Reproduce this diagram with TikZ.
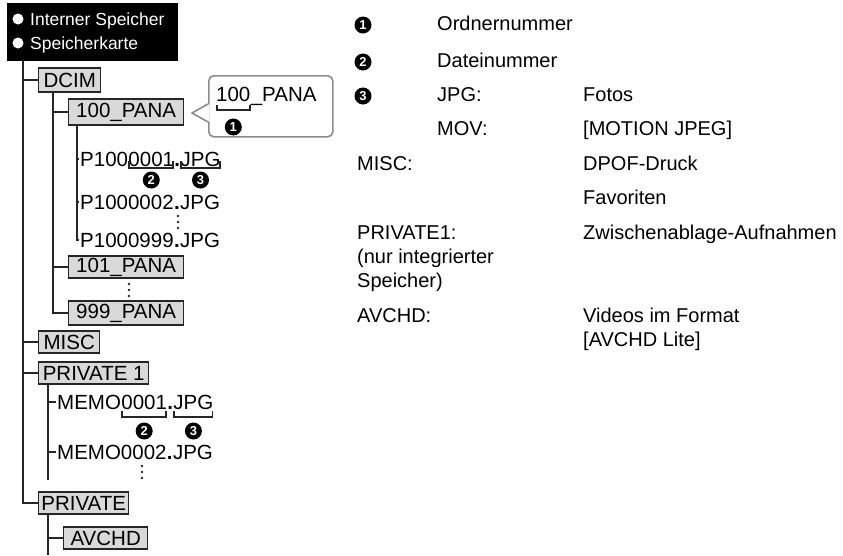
\documentclass[tikz,border=0pt]{standalone}
\usepackage{fontspec}
\setmainfont{Liberation Sans}
\usetikzlibrary{calc}
\newcommand\treefont{\fontsize{20.5}{22}\selectfont}
\newcommand\headfont{\fontsize{17.5}{20}\selectfont}
\newcommand\rightfont{\fontsize{20}{22}\selectfont}
\begin{document}
\begin{tikzpicture}[x=1pt,y=-1pt,
  tline/.style={draw=black!85, line width=1.4pt},
  fbox/.style={draw=black!85, line width=1.4pt, fill=black!15, minimum height=22pt, inner sep=0pt, anchor=west, font=\treefont},
  ftext/.style={inner sep=0pt, anchor=base west, font=\treefont},
  htext/.style={inner sep=0pt, anchor=base west, font=\headfont, text=white},
  rtext/.style={inner sep=0pt, anchor=base west, font=\rightfont},
  num/.style={circle, fill=black, text=white, inner sep=0pt, minimum size=17pt, font=\bfseries\fontsize{13}{13}\selectfont},
  hbullet/.style={circle, fill=white, inner sep=0pt, minimum size=11pt},
  brk/.style={draw=black!85, line width=1.8pt},
  callout/.style={draw=black!45, line width=1.6pt},
  dotmark/.style={fill=black!85},
]
\useasboundingbox (0,0) rectangle (843,555);

% header
\node[fill=black, minimum width=171pt, minimum height=58pt, inner sep=0pt, anchor=north west] (hdr) at (7,3) {};
\node[hbullet] (b1) at (18,19) {};
\node[hbullet] (b2) at (18,43) {};
\node[htext] (h1) at (30,25) {Interner Speicher};
\node[htext] (h2) at (30,49) {Speicherkarte};

% folder boxes
\node[fbox, minimum width=62pt, minimum height=24pt] (dcim) at (38,80) {DCIM};
\node[fbox, minimum width=115pt, minimum height=26pt] (p100) at (68,112) {100\_PANA};
\node[fbox, minimum width=115pt] (p101) at (68,267) {101\_PANA};
\node[fbox, minimum width=115pt, minimum height=24pt] (p999) at (68,313) {999\_PANA};
\node[fbox, minimum width=61pt] (misc) at (38,342) {MISC};
\node[fbox, minimum width=110pt] (priv1) at (38,373) {PRIVATE 1};
\node[fbox, minimum width=90pt] (priv) at (38,503) {PRIVATE};
\node[fbox, minimum width=84pt] (avchd) at (63,538) {AVCHD};

% files under 100_PANA
\node[ftext] (f1a) at (80,166) {P100};
\node[ftext] (f1b) at (f1a.base east) {0001};
\node[ftext] (f1c) at (f1b.base east) {\bfseries .};
\node[ftext] (f1d) at (f1c.base east) {JPG};
\node[ftext] (f2a) at (80,209) {P1000002};
\node[ftext] (f2c) at (f2a.base east) {\bfseries .};
\node[ftext] (f2d) at (f2c.base east) {JPG};
\node[ftext] (f3a) at (80,247) {P1000999};
\node[ftext] (f3c) at (f3a.base east) {\bfseries .};
\node[ftext] (f3d) at (f3c.base east) {JPG};

% files under PRIVATE 1
\node[ftext] (m1a) at (57,409) {MEMO};
\node[ftext] (m1b) at (m1a.base east) {0001};
\node[ftext] (m1c) at (m1b.base east) {\bfseries .};
\node[ftext] (m1d) at (m1c.base east) {JPG};
\node[ftext] (m2a) at (57,459) {MEMO0002};
\node[ftext] (m2c) at (m2a.base east) {\bfseries .};
\node[ftext] (m2d) at (m2c.base east) {JPG};

% tree lines
\coordinate (t0) at (23,61);
\draw[tline] (t0) |- (dcim.west);
\draw[tline] (t0) |- (misc.west);
\draw[tline] (t0) |- (priv1.west);
\draw[tline] (t0) |- (priv.west);
\coordinate (d0) at (53,92);
\draw[tline] (d0) |- (p100.west);
\draw[tline] (d0) |- (p101.west);
\draw[tline] (d0) |- (p999.west);
\coordinate (e0) at (77,125);
\draw[tline] (e0) |- ([xshift=-1pt]f1a.west);
\draw[tline] (e0) |- ([xshift=-1pt]f2a.west);
\draw[tline] (e0) |- ([xshift=-1pt]f3a.west);
\coordinate (q0) at (48,384);
\coordinate (q1) at (48,480);
\draw[tline] (q0) -- (q1);
\draw[tline] (q0) |- ([xshift=-1pt]m1a.west);
\draw[tline] (q0) |- ([xshift=-1pt]m2a.west);
\coordinate (r0) at (48,514);
\coordinate (r1) at (48,555);
\draw[tline] (r0) -- (r1);
\draw[tline] (r0) |- (avchd.west);

% continuation dots
\foreach \y in {216,222,228} \fill[dotmark] (178,\y) circle (1.4pt);
\foreach \y in {284,290,296} \fill[dotmark] (129,\y) circle (1.4pt);
\foreach \y in {466,472,478} \fill[dotmark] (142,\y) circle (1.4pt);

% brackets under P1000001.JPG
\draw[brk] ($(f1b.base west)+(1,-5)$) -- ($(f1b.base west)+(1,2)$) -- ($(f1b.base east)+(-1,2)$) -- ($(f1b.base east)+(-1,-5)$);
\draw[brk] ($(f1d.base west)+(1,-5)$) -- ($(f1d.base west)+(1,2)$) -- ($(f1d.base east)+(-1,2)$) -- ($(f1d.base east)+(-1,-5)$);
\node[num] (n2a) at ($(f1b.base)+(0,14)$) {2};
\node[num] (n3a) at ($(f1d.base)+(0,14)$) {3};

% brackets under MEMO0001.JPG
\draw[brk] ($(m1b.base west)+(1,2)$) -- ($(m1b.base west)+(1,8)$) -- ($(m1b.base east)+(-1,8)$) -- ($(m1b.base east)+(-1,2)$);
\draw[brk] ($(m1d.base west)+(1,2)$) -- ($(m1d.base west)+(1,8)$) -- ($(m1d.base east)+(-1,8)$) -- ($(m1d.base east)+(-1,2)$);
\node[num] (n2b) at ($(m1b.base)+(0,22)$) {2};
\node[num] (n3b) at ($(m1d.base)+(0,22)$) {3};

% callout
\node[callout, fill=white, rounded corners=5pt, minimum width=124pt, minimum height=61pt, inner sep=0pt, anchor=north west] (call) at (208,75) {};
\coordinate (tip) at (192,113);
\fill[white] (209.5,104) -- (tip) -- (209.5,122) -- cycle;
\draw[callout, line join=round] (208,104) -- (tip) -- (208,122);
\node[ftext] (c1a) at (216,101) {100};
\node[ftext] (c1b) at (c1a.base east) {\_PANA};
\draw[brk] ($(c1a.base west)+(1,4)$) -- ($(c1a.base west)+(1,9)$) -- ($(c1a.base east)+(-1,9)$) -- ($(c1a.base east)+(-1,4)$);
\node[num] (n1a) at ($(c1a.base)+(0,26)$) {1};

% right-hand legend
\node[num] (rn1) at (363,25) {1};
\node[num] (rn2) at (363,62) {2};
\node[num] (rn3) at (363,96) {3};
\node[rtext] (rt1) at (437,30) {Ordnernummer};
\node[rtext] (rt2) at (437,67) {Dateinummer};
\node[rtext] (rt3) at (437,101) {JPG:};
\node[rtext] (rt4) at (437,135) {MOV:};
\node[rtext] (rm) at (357,170) {MISC:};
\node[rtext] (rp) at (357,239) {PRIVATE1:};
\node[rtext] (rp2) at (357,263) {(nur integrierter};
\node[rtext] (rp3) at (357,287) {Speicher)};
\node[rtext] (ra) at (357,322) {AVCHD:};
\node[rtext] (rf3) at (583,101) {Fotos};
\node[rtext] (rf4) at (583,135) {[MOTION JPEG]};
\node[rtext] (rf5) at (583,170) {DPOF-Druck};
\node[rtext] (rf6) at (583,204) {Favoriten};
\node[rtext] (rf7) at (583,239) {Zwischenablage-Aufnahmen};
\node[rtext] (rf8) at (583,322) {Videos im Format};
\node[rtext] (rf9) at (583,346) {[AVCHD Lite]};
\end{tikzpicture}
\end{document}
